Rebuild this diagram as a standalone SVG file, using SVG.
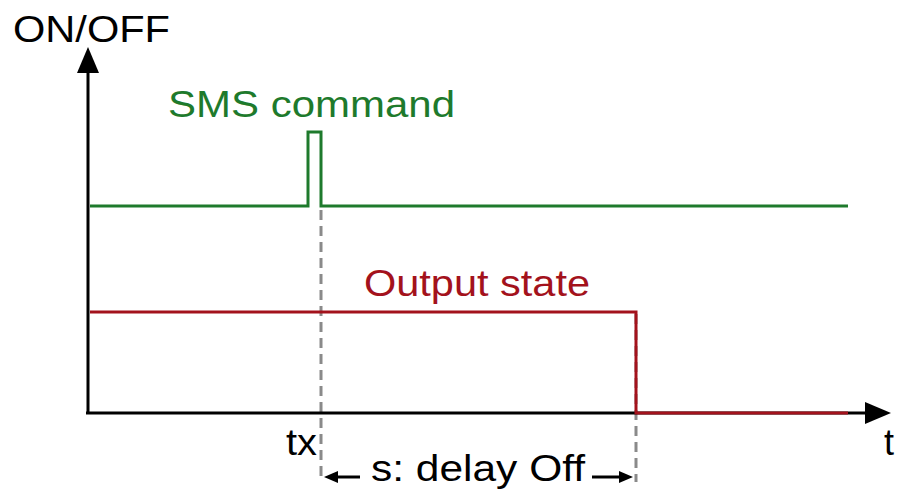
<svg xmlns="http://www.w3.org/2000/svg" width="897" height="495" viewBox="0 0 897 495">
<style>
text{font-family:"Liberation Sans",Arial,sans-serif;font-size:36px}
.ax{stroke:#000;stroke-width:3;fill:none}
.g{stroke:#1e7a2c;stroke-width:3;fill:none}
.r{stroke:#a3121c;stroke-width:3;fill:none}
.d{stroke:#8a8a8a;stroke-width:3;stroke-dasharray:10 6;fill:none}
.ah{fill:#000}
</style>
<rect width="897" height="495" fill="#fff"/>
<g id="connectors">
<path class="d" d="M321,210 V482"/>
<path class="d" d="M636,314 V482"/>
<path class="ax" d="M88,412 V70"/>
<polygon class="ah" points="88,47 77,73 99,73"/>
<path class="ax" d="M86,413 H868"/>
<polygon class="ah" points="891,413 865,402 865,424"/>
<path class="g" d="M90,206 H308 V132 H321 V206 H848"/>
<path class="r" d="M90,312 H636 V413 H848"/>
<path class="ax" d="M335,477 H360"/>
<polygon class="ah" points="324,477 338,471 338,483"/>
<path class="ax" d="M592,477 H620"/>
<polygon class="ah" points="633,477 619,471 619,483"/>
</g>
<g id="labels">
<text x="13" y="42" textLength="157" lengthAdjust="spacingAndGlyphs">ON/OFF</text>
<text x="168" y="117" fill="#1e7a2c" textLength="287" lengthAdjust="spacingAndGlyphs">SMS command</text>
<text x="364" y="296" fill="#a3121c" textLength="226" lengthAdjust="spacingAndGlyphs">Output state</text>
<text x="286" y="455" textLength="31" lengthAdjust="spacingAndGlyphs">tx</text>
<text x="371" y="481" textLength="214" lengthAdjust="spacingAndGlyphs">s: delay Off</text>
<text x="884" y="455">t</text>
</g>
</svg>
